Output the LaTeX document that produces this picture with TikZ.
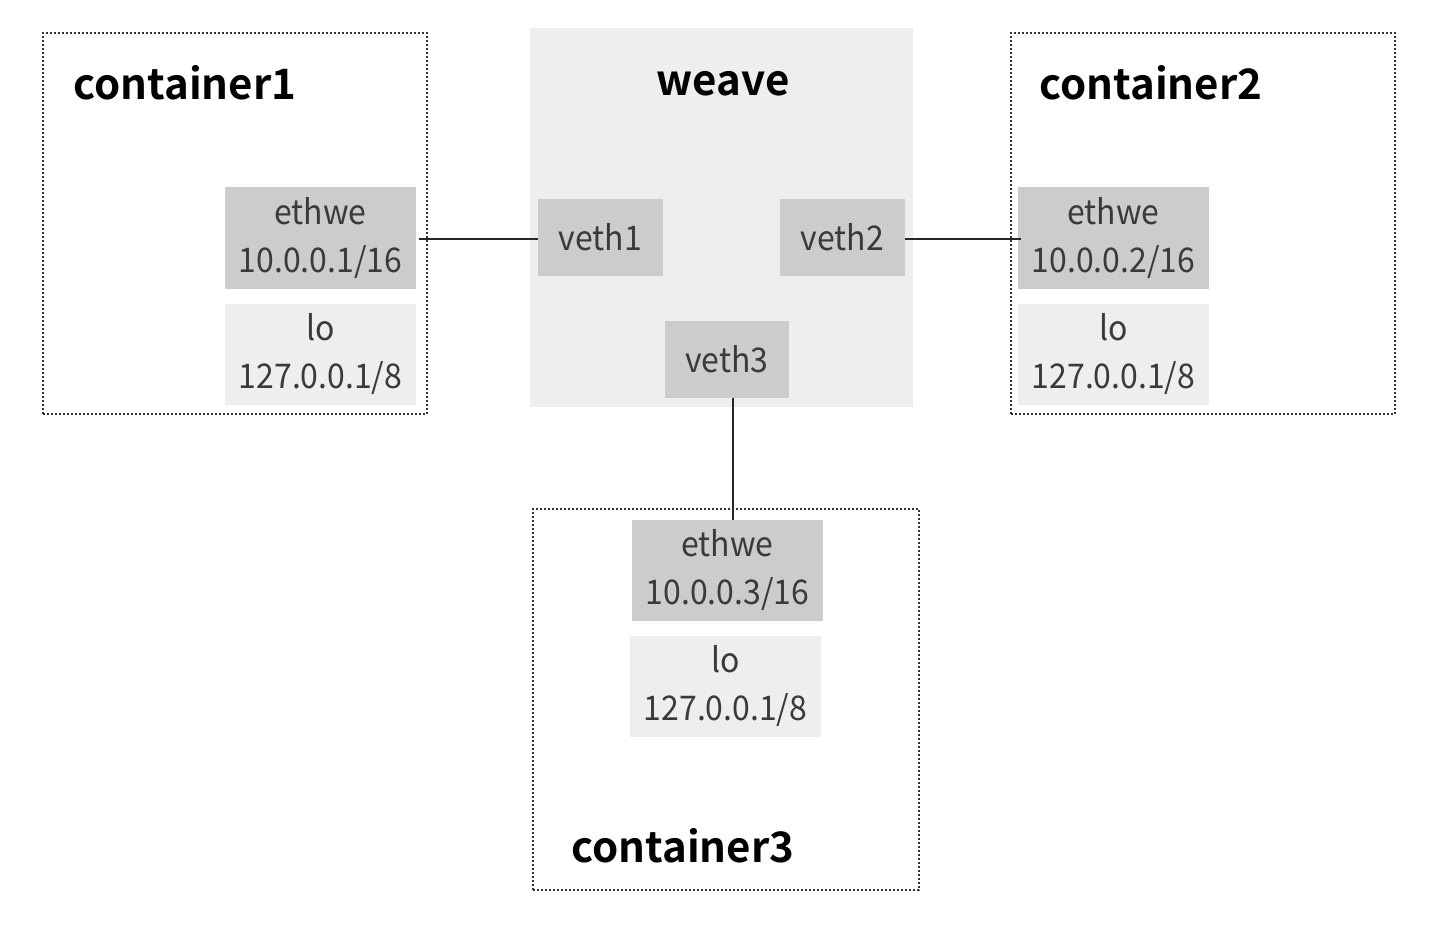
\documentclass[tikz,border=0pt]{standalone}
\usepackage{fontspec}
\newfontfamily\labfont{Noto Sans CJK SC}[FakeStretch=0.94]
\newfontfamily\titfont{Noto Sans CJK SC}[BoldFont={* Bold}]
\definecolor{dark}{HTML}{CCCCCC}
\definecolor{light}{HTML}{EEEEEE}
\definecolor{txt}{HTML}{3A3A3A}
\begin{document}
\begin{tikzpicture}[x=0.5pt,y=-0.5pt,
  ifbox/.style={rectangle,inner sep=0pt,outer sep=0pt,align=center,text=txt,
    font=\labfont\fontsize{17pt}{24pt}\selectfont},
  cont/.style={rectangle,inner sep=0pt,outer sep=0pt,draw=black!80,line width=0.75pt,dash pattern=on 1pt off 1pt},
  title/.style={anchor=base west,inner sep=0pt,font=\titfont\bfseries\fontsize{21pt}{24pt}\selectfont},
  link/.style={draw=black!85,line width=0.9pt}]
\useasboundingbox (0,0) rectangle (1452,952);
% containers
\node[cont,minimum width=192pt,minimum height=190.5pt] (c1) at (235,223.5) {};
\node[cont,minimum width=192pt,minimum height=190.5pt] (c2) at (1203,223.5) {};
\node[cont,minimum width=193pt,minimum height=190.5pt] (c3) at (726,699.5) {};
% weave
\node[rectangle,inner sep=0pt,fill=light,minimum width=191.5pt,minimum height=189.5pt] (weave) at (721.5,217.5) {};
\node[title,anchor=base] (wt) at (723,96) {weave};
\node[title] (t1) at (73,100) {container1};
\node[title] (t2) at (1039,100) {container2};
\node[title] (t3) at (571,862) {container3};
% veths
\node[ifbox,fill=dark,minimum width=62.5pt,minimum height=38.5pt] (v1) at (600.5,237.5) {veth1};
\node[ifbox,fill=dark,minimum width=62.5pt,minimum height=38.5pt] (v2) at (842.5,237.5) {veth2};
\node[ifbox,fill=dark,minimum width=62pt,minimum height=38.5pt] (v3) at (727,359.5) {veth3};
% interfaces
\node[ifbox,fill=dark,minimum width=95.5pt,minimum height=51pt] (e1) at (320.5,238) {ethwe\\10.0.0.1/16};
\node[ifbox,fill=light,minimum width=95.5pt,minimum height=50.5pt] (l1) at (320.5,354.5) {lo\\127.0.0.1/8};
\node[ifbox,fill=dark,minimum width=95.5pt,minimum height=51pt] (e2) at (1113.5,238) {ethwe\\10.0.0.2/16};
\node[ifbox,fill=light,minimum width=95.5pt,minimum height=50.5pt] (l2) at (1113.5,354.5) {lo\\127.0.0.1/8};
\node[ifbox,fill=dark,minimum width=95.5pt,minimum height=50.5pt] (e3) at (727.5,570.5) {ethwe\\10.0.0.3/16};
\node[ifbox,fill=light,minimum width=95.5pt,minimum height=50.5pt] (l3) at (725.5,686.5) {lo\\127.0.0.1/8};
% links
\draw[link] ([xshift=1.5pt,yshift=-0.5pt]e1.east) -- ([yshift=-0.5pt]e1.east -| v1.west);
\draw[link] ([yshift=-0.5pt]e2.west -| v2.east) -- ([xshift=1.5pt,yshift=-0.5pt]e2.west);
\draw[link] ([xshift=3pt]v3.south) -- ([xshift=3pt]v3.south |- e3.north);
\end{tikzpicture}
\end{document}
